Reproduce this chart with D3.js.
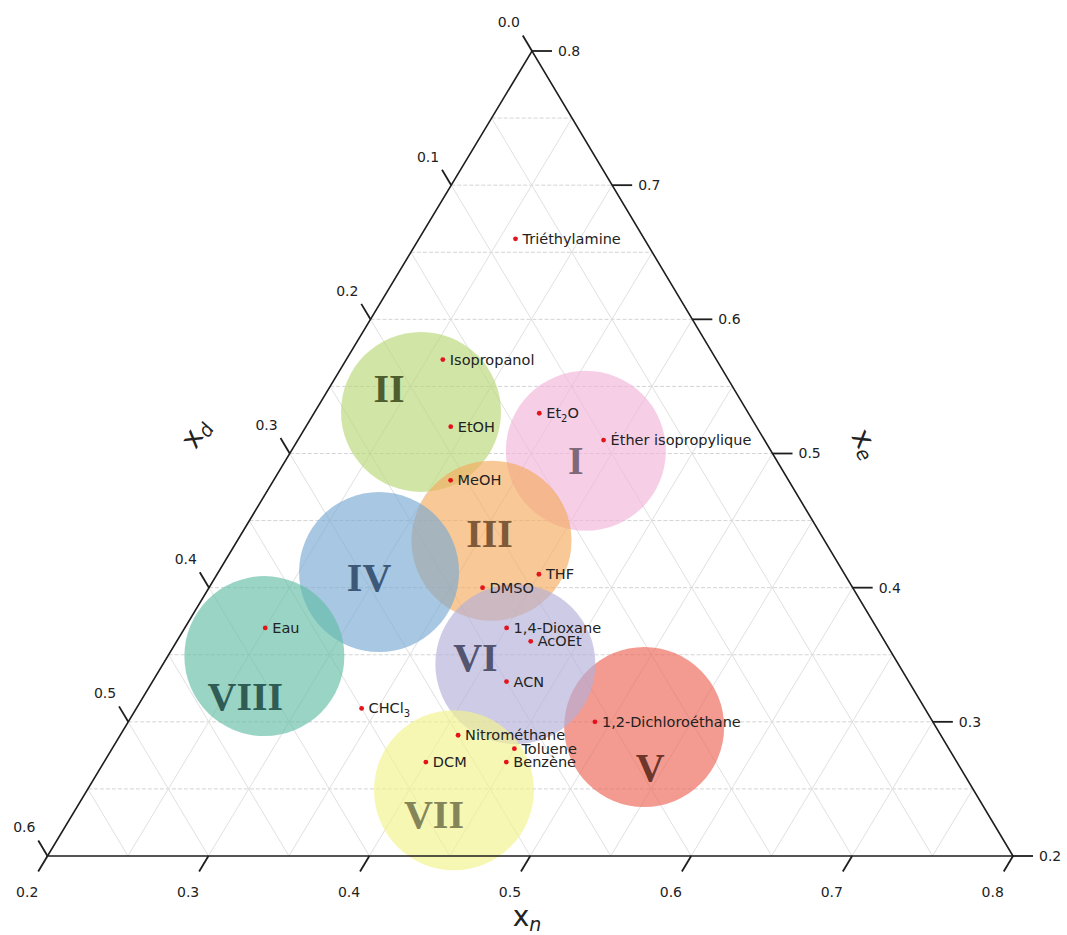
<!DOCTYPE html>
<html>
<head>
<meta charset="utf-8">
<script src="https://cdn.jsdelivr.net/npm/d3@7"></script>
<style>
  html, body { margin: 0; padding: 0; background: #fff; }
  svg { display: block; }
  text { font-family: "DejaVu Sans", Verdana, sans-serif; }
</style>
</head>
<body>
<svg id="chart" width="1067" height="935"></svg>
<script>
// Solvents placed in the (x_n, x_d, x_e) ternary space
const solvents = ["Triéthylamine", "Isopropanol", "Et_2O", "EtOH", "Éther isopropylique", "MeOH",
  "THF", "DMSO", "1,4-Dioxane", "AcOEt", "ACN", "1,2-Dichloroéthane", "Nitrométhane",
  "Toluene", "DCM", "Benzène", "Eau", "CHCl_3"];
const solventXn = [0.26, 0.26, 0.34, 0.29, 0.39, 0.31, 0.40, 0.37, 0.40, 0.42, 0.42, 0.49, 0.41, 0.45, 0.40, 0.45, 0.25, 0.34];
const solventXd = [0.08, 0.17, 0.13, 0.19, 0.10, 0.21, 0.19, 0.23, 0.23, 0.22, 0.25, 0.21, 0.30, 0.27, 0.33, 0.28, 0.38, 0.35];
const solventXe = [0.66, 0.57, 0.53, 0.52, 0.51, 0.48, 0.41, 0.40, 0.37, 0.36, 0.33, 0.30, 0.29, 0.28, 0.27, 0.27, 0.37, 0.31];

// Solvent classes (zone centres)
const zones = ["I", "II", "III", "IV", "V", "VI", "VII", "VIII"];
const zoneXn = [0.383, 0.266, 0.358, 0.300, 0.522, 0.419, 0.428, 0.260];
const zoneXd = [0.115, 0.203, 0.207, 0.289, 0.181, 0.238, 0.323, 0.391];
const zoneXe = [0.502, 0.531, 0.435, 0.412, 0.296, 0.343, 0.249, 0.349];

// Axis ticks
const xnTicks = [0.2, 0.3, 0.4, 0.5, 0.6, 0.7, 0.8];
const xdTicks = [0.0, 0.1, 0.2, 0.3, 0.4, 0.5, 0.6];
const xeTicks = [0.2, 0.3, 0.4, 0.5, 0.6, 0.7, 0.8];

// ---- styling ----
const zoneFill = {
  I: "#f1b4d9", II: "#b8d877", III: "#f4aa5d", IV: "#78a9d2",
  V: "#ed6556", VI: "#b3afd9", VII: "#f3f38c", VIII: "#63bda6"
};
const zoneText = {
  I: "#806a7a", II: "#4f5e2e", III: "#7e5a38", IV: "#3e5878",
  V: "#6e352b", VI: "#535470", VII: "#85855a", VIII: "#2f5c54"
};
const zoneLabelOffset = {
  I: [-10, 9], II: [-32, -24], III: [-2, -8], IV: [-10, 5],
  V: [6, 40], VI: [-40, -7], VII: [-20, 24], VIII: [-19, 40]
};
const zoneRadius = 80;

// Triangle corners: A = max x_d (bottom-left), B = max x_n (bottom-right), C = max x_e (top)
const A = [47.5, 856], B = [1013, 856], C = [532, 51];

const sN = d3.scaleLinear().domain([0.2, 0.8]).range([0, 1]);
const sD = d3.scaleLinear().domain([0.0, 0.6]).range([0, 1]);
const sE = d3.scaleLinear().domain([0.2, 0.8]).range([0, 1]);

function project(xn, xd, xe) {
  const a = sD(xd), b = sN(xn), c = sE(xe);
  const s = a + b + c;
  return [(a * A[0] + b * B[0] + c * C[0]) / s, (a * A[1] + b * B[1] + c * C[1]) / s];
}

const svg = d3.select("#chart");
svg.append("rect").attr("width", 1067).attr("height", 935).attr("fill", "#fff");

// ---- grid ----
const gridVals = d3.range(1, 12).map(i => +(0.2 + i * 0.05).toFixed(2));
const gridD = d3.range(1, 12).map(i => +(i * 0.05).toFixed(2));
const grid = svg.append("g");
const line = d3.line();

// constant x_e : horizontal dashed lines
grid.selectAll(".ge").data(gridVals).join("path")
  .attr("d", v => line([project(0.2, 0.8 - v, v), project(1 - v, 0, v)]))
  .attr("stroke", "#d4d4d4").attr("stroke-width", 1).attr("stroke-dasharray", "4,2").attr("fill", "none");
// constant x_n : parallel to left edge
grid.selectAll(".gn").data(gridVals).join("path")
  .attr("d", v => line([project(v, 0.8 - v, 0.2), project(v, 0, 1 - v)]))
  .attr("stroke", "#e0e0e0").attr("stroke-width", 1).attr("fill", "none");
// constant x_d : parallel to right edge
grid.selectAll(".gd").data(gridD).join("path")
  .attr("d", v => line([project(0.8 - v, v, 0.2), project(0.2, v, 0.8 - v)]))
  .attr("stroke", "#e0e0e0").attr("stroke-width", 1).attr("fill", "none");

// ---- zones ----
const zoneData = zones.map((z, i) => ({ name: z, p: project(zoneXn[i], zoneXd[i], zoneXe[i]) }));
const zg = svg.append("g");
zg.selectAll("circle").data(zoneData).join("circle")
  .attr("cx", d => d.p[0]).attr("cy", d => d.p[1]).attr("r", zoneRadius)
  .attr("fill", d => zoneFill[d.name]).attr("fill-opacity", 0.65);

// ---- triangle frame ----
svg.append("path")
  .attr("d", line([A, B, C]) + "Z")
  .attr("fill", "none").attr("stroke", "#1e1e1e").attr("stroke-width", 1.6);

// ---- ticks ----
const tickLen = 18;
const norm = (v) => { const l = Math.hypot(v[0], v[1]); return [v[0] / l, v[1] / l]; };
const dirN = norm([A[0] - C[0], A[1] - C[1]]); // bottom ticks, down-left
const dirD = norm([C[0] - B[0], C[1] - B[1]]); // left ticks, up-left
const dirE = [1, 0];                            // right ticks, horizontal
const fmt = d3.format(".1f");
const ticks = svg.append("g");

function drawTicks(vals, posFn, dir, len, labelFn) {
  vals.forEach(v => {
    const p = posFn(v);
    const q = [p[0] + dir[0] * len, p[1] + dir[1] * len];
    ticks.append("line")
      .attr("x1", p[0]).attr("y1", p[1]).attr("x2", q[0]).attr("y2", q[1])
      .attr("stroke", "#1e1e1e").attr("stroke-width", 1.8);
    labelFn(ticks.append("text").text(fmt(v)).attr("font-size", 14).attr("fill", "#222"), q);
  });
}
drawTicks(xnTicks, v => project(v, 0.8 - v, 0.2), dirN, tickLen,
  (t, q) => t.attr("x", q[0] - 11).attr("y", q[1] + 26).attr("text-anchor", "middle"));
drawTicks(xdTicks, v => project(0.2, v, 0.8 - v), dirD, tickLen,
  (t, q) => t.attr("x", q[0] - 14).attr("y", q[1] - 13).attr("dy", "0.35em").attr("text-anchor", "middle"));
drawTicks(xeTicks, v => project(1 - v, 0, v), dirE, 20,
  (t, q) => t.attr("x", q[0] + 6).attr("y", q[1]).attr("dy", "0.35em").attr("text-anchor", "start"));

// ---- axis titles ----
function axisTitle(x, y, angle, sub) {
  const t = svg.append("text")
    .attr("transform", `translate(${x},${y}) rotate(${angle})`)
    .attr("text-anchor", "middle").attr("font-size", 28).attr("fill", "#222");
  t.append("tspan").text("x");
  t.append("tspan").text(sub).attr("font-size", 19).attr("font-style", "italic").attr("dy", 5);
}
axisTitle(527, 926, 0, "n");
axisTitle(203, 438, -59, "d");
axisTitle(858, 448, 59, "e");

// ---- zone labels ----
svg.append("g").selectAll("text").data(zoneData).join("text")
  .attr("x", d => d.p[0] + zoneLabelOffset[d.name][0])
  .attr("y", d => d.p[1] + zoneLabelOffset[d.name][1])
  .attr("dy", "0.35em").attr("text-anchor", "middle")
  .style("font-family", '"Liberation Serif", "DejaVu Serif", serif')
  .attr("font-weight", "bold").attr("font-size", 40)
  .attr("fill", d => zoneText[d.name])
  .text(d => d.name);

// ---- solvent points ----
const pts = solvents.map((s, i) => ({ name: s, p: project(solventXn[i], solventXd[i], solventXe[i]) }));
const pg = svg.append("g");
pg.selectAll("circle").data(pts).join("circle")
  .attr("cx", d => d.p[0]).attr("cy", d => d.p[1]).attr("r", 2.4)
  .attr("fill", "#e3121b");

pg.selectAll("text").data(pts).join("text")
  .attr("x", d => d.p[0] + 7).attr("y", d => d.p[1]).attr("dy", "0.35em")
  .attr("font-size", 14.5).attr("fill", "#222")
  .each(function (d) {
    const el = d3.select(this);
    const parts = d.name.split("_");
    el.append("tspan").text(parts[0]);
    if (parts.length > 1) {
      el.append("tspan").text(parts[1][0]).attr("font-size", 10).attr("dy", 4);
      el.append("tspan").text(parts[1].slice(1)).attr("dy", -4);
    }
  });
</script>
</body>
</html>
